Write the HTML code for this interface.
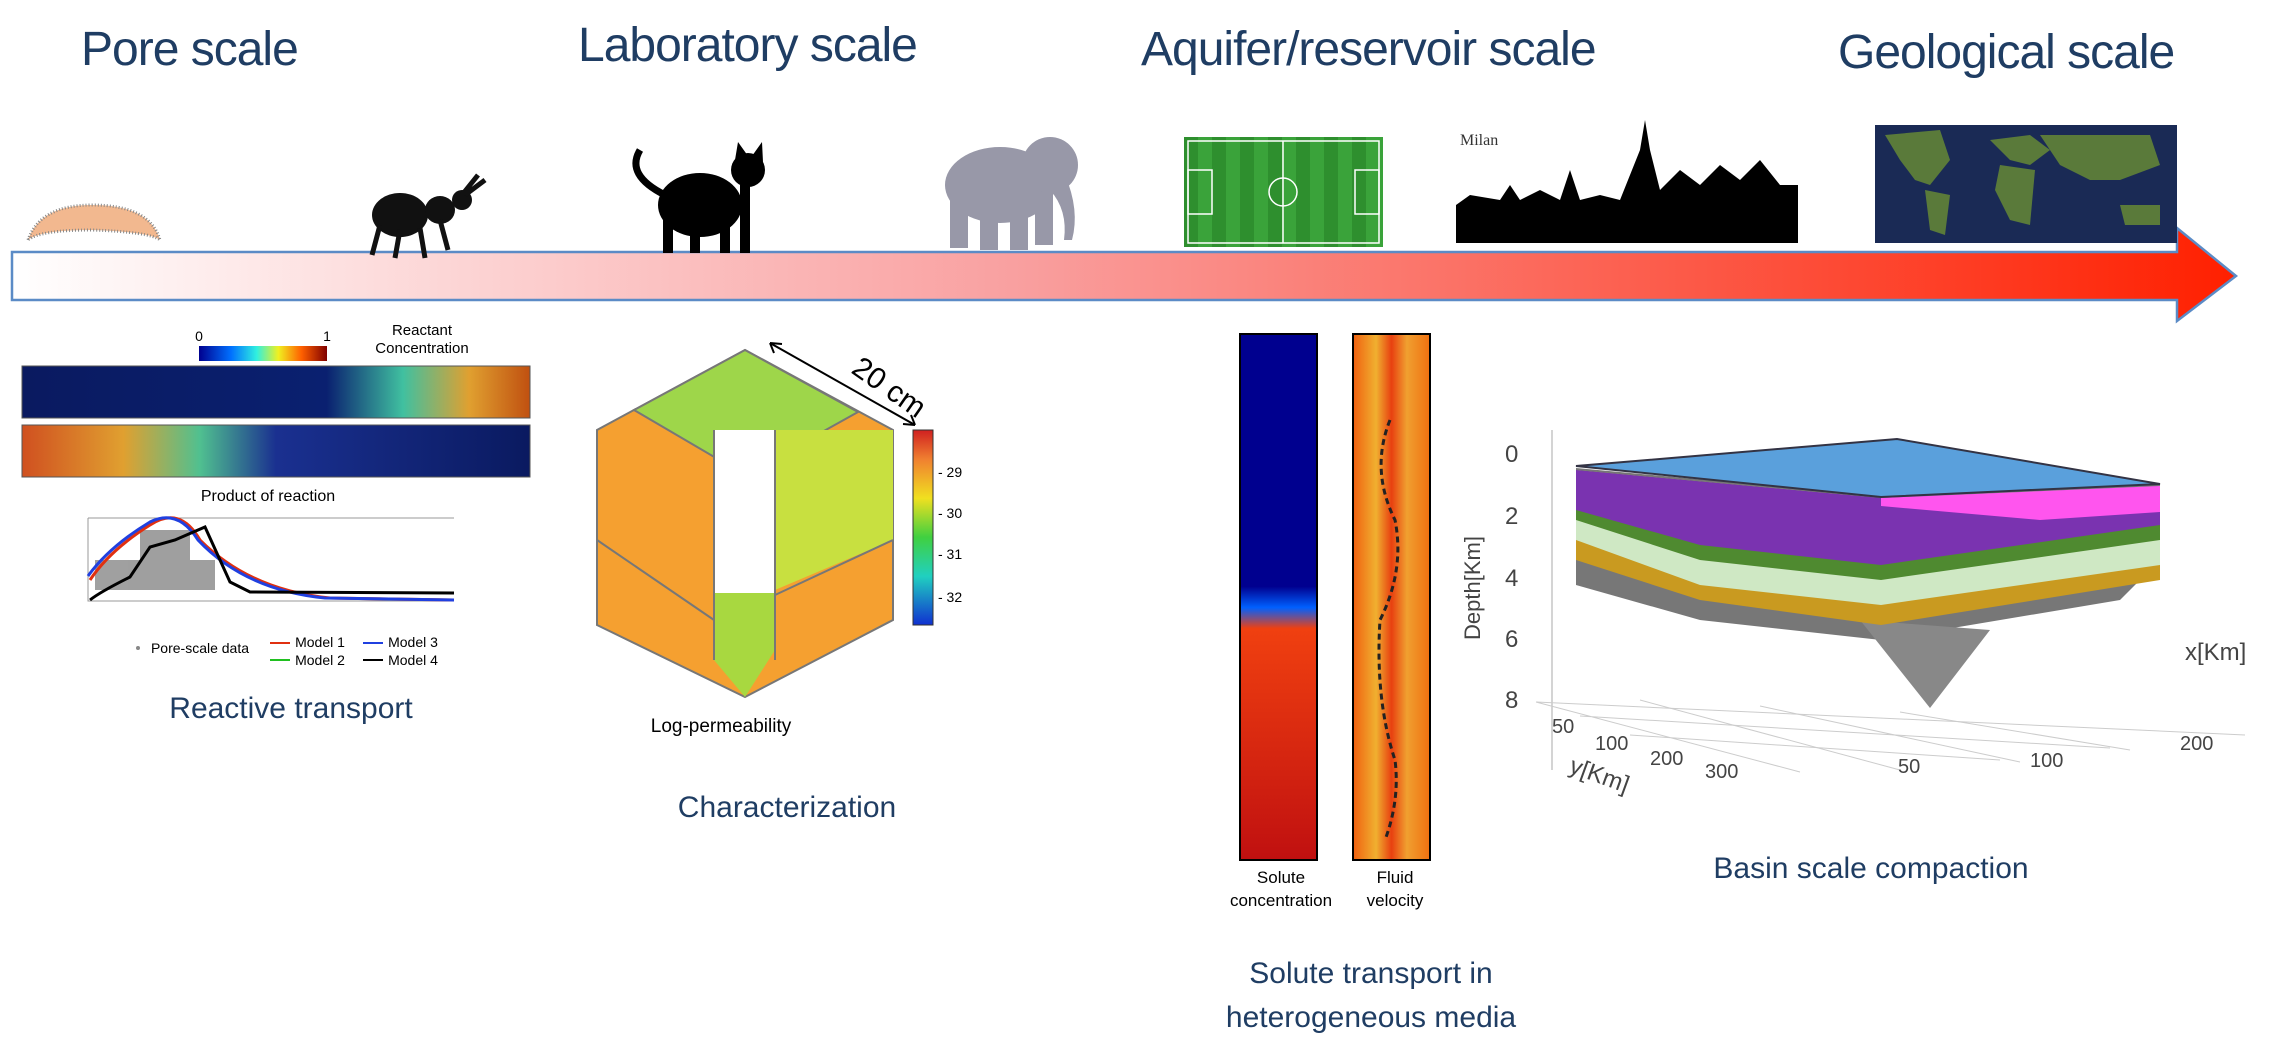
<!DOCTYPE html>
<html><head><meta charset="utf-8">
<style>
html,body{margin:0;padding:0;background:#fff;}
body{width:2276px;height:1030px;overflow:hidden;position:relative;font-family:"Liberation Sans",sans-serif;}
.t{position:absolute;color:#1f3d63;white-space:nowrap;}
.h{font-size:48px;top:22px;letter-spacing:-1px;}
.c{font-size:30px;transform:translateX(-50%);text-align:center;}
.s{position:absolute;color:#000;font-size:17px;white-space:nowrap;text-align:center;transform:translateX(-50%);}
</style></head><body>
<svg width="2276" height="1030" style="position:absolute;left:0;top:0">
<defs>
<linearGradient id="ar" x1="0" x2="1"><stop offset="0" stop-color="#fff"/><stop offset="0.45" stop-color="#f9a0a0"/><stop offset="1" stop-color="#ff2000"/></linearGradient>
<linearGradient id="jet" x1="0" x2="1"><stop offset="0" stop-color="#00008f"/><stop offset="0.25" stop-color="#0070ff"/><stop offset="0.45" stop-color="#30f0e0"/><stop offset="0.62" stop-color="#f0f020"/><stop offset="0.8" stop-color="#ff6000"/><stop offset="1" stop-color="#800000"/></linearGradient>
<linearGradient id="s1" x1="0" x2="1"><stop offset="0" stop-color="#0a1a60"/><stop offset="0.6" stop-color="#0a2070"/><stop offset="0.75" stop-color="#40c0a0"/><stop offset="0.88" stop-color="#e0a030"/><stop offset="1" stop-color="#c05010"/></linearGradient>
<linearGradient id="s2" x1="0" x2="1"><stop offset="0" stop-color="#d05020"/><stop offset="0.2" stop-color="#e0a030"/><stop offset="0.35" stop-color="#50c090"/><stop offset="0.5" stop-color="#1a3090"/><stop offset="1" stop-color="#0a1a60"/></linearGradient>
<linearGradient id="cb" x1="0" x2="0" y1="0" y2="1"><stop offset="0" stop-color="#d02020"/><stop offset="0.15" stop-color="#f08030"/><stop offset="0.35" stop-color="#f0e020"/><stop offset="0.55" stop-color="#40d040"/><stop offset="0.75" stop-color="#20d0c0"/><stop offset="1" stop-color="#1030d0"/></linearGradient>
<linearGradient id="fl" x1="0" x2="1"><stop offset="0" stop-color="#f06010"/><stop offset="0.3" stop-color="#f0b030"/><stop offset="0.5" stop-color="#e84010"/><stop offset="0.7" stop-color="#f0a030"/><stop offset="1" stop-color="#f07010"/></linearGradient>
<linearGradient id="sc" x1="0" x2="0" y1="0" y2="1"><stop offset="0" stop-color="#00008f"/><stop offset="0.48" stop-color="#00008f"/><stop offset="0.52" stop-color="#0060ff"/><stop offset="0.56" stop-color="#f04010"/><stop offset="1" stop-color="#c01010"/></linearGradient>
</defs>
<path d="M12,252 L2177,252 L2177,228 L2236,276 L2177,321 L2177,300 L12,300 Z" fill="url(#ar)" stroke="#5b8bc6" stroke-width="2.5"/>
<path d="M28,240 Q40,205 92,205 Q150,205 160,240 Q150,232 92,230 Q40,230 28,240Z" fill="#f2b88f" stroke="#888" stroke-width="3" stroke-dasharray="1 2"/>
<g fill="#111"><ellipse cx="400" cy="215" rx="28" ry="22"/><ellipse cx="440" cy="210" rx="15" ry="14"/><circle cx="462" cy="200" r="10"/>
<path d="M380,225 L372,255 M400,230 L395,258 M420,228 L425,258 M440,220 L448,250 M465,195 L485,180 M462,195 L478,175" stroke="#111" stroke-width="5"/></g>
<g fill="#000"><ellipse cx="700" cy="205" rx="42" ry="32"/><circle cx="748" cy="170" r="17"/><path d="M735,160 L738,142 L748,156Z M752,156 L762,142 L763,162Z"/>
<rect x="663" y="205" width="10" height="48"/><rect x="690" y="215" width="10" height="38"/><rect x="720" y="210" width="10" height="43"/><rect x="740" y="185" width="10" height="68"/>
<path d="M665,195 Q625,175 640,150" stroke="#000" stroke-width="7" fill="none"/></g>
<g fill="#9898a8"><ellipse cx="1000" cy="185" rx="55" ry="38"/><ellipse cx="1050" cy="165" rx="28" ry="28"/><path d="M1065,175 Q1080,210 1072,240 L1064,240 Q1068,210 1050,190Z"/>
<rect x="950" y="200" width="18" height="48"/><rect x="980" y="210" width="18" height="40"/><rect x="1010" y="205" width="18" height="45"/><rect x="1035" y="195" width="18" height="50"/></g>
<rect x="1184" y="137" width="199" height="110" fill="#3aa33a"/>
<g fill="#2e8f2e"><rect x="1184" y="137" width="14" height="110"/><rect x="1212" y="137" width="14" height="110"/><rect x="1240" y="137" width="14" height="110"/><rect x="1268" y="137" width="14" height="110"/><rect x="1296" y="137" width="14" height="110"/><rect x="1324" y="137" width="14" height="110"/><rect x="1352" y="137" width="14" height="110"/></g>
<g fill="none" stroke="#fff" stroke-width="1.5"><rect x="1188" y="141" width="191" height="102"/><line x1="1283" y1="141" x2="1283" y2="243"/><circle cx="1283" cy="192" r="14"/><rect x="1188" y="170" width="24" height="44"/><rect x="1355" y="170" width="24" height="44"/></g>
<text x="1460" y="145" font-family="Liberation Serif" font-size="16" fill="#333">Milan</text>
<path d="M1456,243 L1456,205 L1470,195 L1500,200 L1510,185 L1520,200 L1540,190 L1560,200 L1570,170 L1580,200 L1600,195 L1620,200 L1640,150 L1645,120 L1650,150 L1660,190 L1680,170 L1700,185 L1720,165 L1740,180 L1760,160 L1780,185 L1798,185 L1798,243 Z" fill="#000"/>
<rect x="1875" y="125" width="302" height="118" fill="#1a2a55"/>
<g fill="#5a7a3a"><path d="M1885,135 L1940,130 L1950,160 L1930,185 L1915,180 L1900,160Z"/><path d="M1925,190 L1950,195 L1945,235 L1930,230Z"/><path d="M1990,140 L2030,135 L2050,150 L2030,165 L2010,160Z"/><path d="M2000,165 L2035,170 L2030,225 L2010,220 L1995,190Z"/><path d="M2040,135 L2150,135 L2160,165 L2120,180 L2090,180 L2060,165Z"/><path d="M2120,205 L2160,205 L2160,225 L2125,225Z"/></g>
<rect x="199" y="346" width="128" height="15" fill="url(#jet)"/>
<rect x="22" y="366" width="508" height="52" fill="url(#s1)" stroke="#555"/>
<rect x="22" y="425" width="508" height="52" fill="url(#s2)" stroke="#555"/>
<g stroke="#999" fill="none"><path d="M88,518 L88,601 L454,601"/><line x1="88" y1="518" x2="454" y2="518"/></g>
<g fill="#888" opacity="0.8"><rect x="95" y="560" width="120" height="30"/><rect x="140" y="530" width="50" height="30"/></g>
<path d="M90,580 Q110,550 150,525 Q180,505 200,540 Q250,590 330,598 L454,600" stroke="#e03010" stroke-width="3" fill="none"/>
<path d="M88,576 Q110,546 150,522 Q178,508 198,540 Q245,590 325,598 L454,600" stroke="#2040e0" stroke-width="3" fill="none"/>
<path d="M90,600 Q100,592 130,577 L150,547 L175,540 L205,527 L230,582 L250,592 L454,593" stroke="#000" stroke-width="3" fill="none"/>
<circle cx="138" cy="648" r="2" fill="#888"/>
<line x1="270" y1="643" x2="290" y2="643" stroke="#e03010" stroke-width="2"/><line x1="270" y1="660" x2="290" y2="660" stroke="#20c020" stroke-width="2"/>
<line x1="363" y1="643" x2="383" y2="643" stroke="#2040e0" stroke-width="2"/><line x1="363" y1="660" x2="383" y2="660" stroke="#000" stroke-width="2"/>
<polygon points="745,350 893,430 893,620 745,697 597,625 597,430" fill="#f5a030" stroke="#777" stroke-width="2"/>
<polygon points="745,350 858,412 745,475 634,410" fill="#9ed64a" stroke="#777" stroke-width="2"/>
<polygon points="775,430 893,430 893,540 775,590" fill="#c8e040"/>
<polygon points="714,590 745,565 775,590 775,650 745,697 714,660" fill="#a8d840"/>
<polygon points="714,430 775,430 775,593 714,593" fill="#fff"/>
<path d="M597,540 L714,620 M893,540 L775,595 M714,430 L714,660 M775,430 L775,660" stroke="#777" stroke-width="2"/>
<rect x="913" y="430" width="20" height="195" fill="url(#cb)" stroke="#333"/>
<line x1="770" y1="343" x2="915" y2="425" stroke="#000" stroke-width="2"/>
<path d="M770,343 l12,1 M770,343 l4,10 M915,425 l-12,-1 M915,425 l-4,-10" stroke="#000" stroke-width="2"/>
<g font-size="14" fill="#000"><text x="938" y="477">- 29</text><text x="938" y="518">- 30</text><text x="938" y="559">- 31</text><text x="938" y="602">- 32</text></g>
<text x="850" y="372" font-size="30" transform="rotate(35 850 372)">20 cm</text>
<rect x="1240" y="334" width="77" height="526" fill="url(#sc)" stroke="#000" stroke-width="2"/>
<rect x="1353" y="334" width="77" height="526" fill="url(#fl)" stroke="#000" stroke-width="2"/>
<path d="M1390,420 Q1370,470 1395,520 Q1405,570 1380,620 Q1375,700 1395,760 Q1400,800 1385,840" stroke="#222" stroke-width="3" stroke-dasharray="6 4" fill="none"/>
<line x1="1552" y1="430" x2="1552" y2="770" stroke="#aaa"/>
<g stroke="#ccc" fill="none"><path d="M1536,702 L2245,735 M1536,702 L1800,772 M1580,716 L2110,748 M1630,735 L2000,760"/><path d="M1640,700 L1900,770 M1760,706 L2020,762 M1900,712 L2130,750"/></g>
<polygon points="1576,468 1881,496 2160,484 2160,560 2120,600 1881,640 1700,620 1576,585" fill="#777"/>
<polygon points="1860,620 1930,708 1990,630" fill="#888"/>
<polygon points="1576,470 1881,498 2160,486 2160,580 1881,625 1700,600 1576,560" fill="#c99a20"/>
<polygon points="1576,470 1881,498 2160,486 2160,565 1881,605 1700,585 1576,540" fill="#cfe8c4"/>
<polygon points="1576,470 1881,498 2160,486 2160,540 1881,580 1700,560 1576,520" fill="#4f8a30"/>
<polygon points="1576,470 1881,498 2160,486 2160,525 1881,565 1700,545 1576,510" fill="#7a33b0"/>
<polygon points="1881,498 2160,486 2160,512 2040,520 1881,506" fill="#ff55ee"/>
<polygon points="1576,466 1897,439 2160,484 1881,497" fill="#5aa0dc" stroke="#334" stroke-width="2"/>
<g font-size="24" fill="#444"><text x="1505" y="462">0</text><text x="1505" y="524">2</text><text x="1505" y="586">4</text><text x="1505" y="647">6</text><text x="1505" y="708">8</text>
<text x="1552" y="733" font-size="20">50</text><text x="1595" y="750" font-size="20">100</text><text x="1650" y="765" font-size="20">200</text><text x="1705" y="778" font-size="20">300</text>
<text x="1898" y="773" font-size="20">50</text><text x="2030" y="767" font-size="20">100</text><text x="2180" y="750" font-size="20">200</text>
<text x="2185" y="660">x[Km]</text><text x="1568" y="772" transform="rotate(20 1568 772)">y[Km]</text>
<text x="1480" y="640" transform="rotate(-90 1480 640)" font-size="22">Depth[Km]</text></g>
</svg>
<div class="t h" style="left:81px">Pore scale</div>
<div class="t h" style="left:578px;top:18px">Laboratory scale</div>
<div class="t h" style="left:1141px">Aquifer/reservoir scale</div>
<div class="t h" style="left:1838px;top:25px">Geological scale</div>
<div class="s" style="left:199px;top:328px;font-size:14px">0</div>
<div class="s" style="left:327px;top:328px;font-size:14px">1</div>
<div class="s" style="left:422px;top:322px;font-size:15px;line-height:18px">Reactant<br>Concentration</div>
<div class="s" style="left:268px;top:488px;font-size:16px">Product of reaction</div>
<div class="s" style="left:200px;top:640px;font-size:14px">Pore-scale data</div>
<div class="s" style="left:320px;top:634px;font-size:14px">Model 1</div>
<div class="s" style="left:320px;top:652px;font-size:14px">Model 2</div>
<div class="s" style="left:413px;top:634px;font-size:14px">Model 3</div>
<div class="s" style="left:413px;top:652px;font-size:14px">Model 4</div>
<div class="t c" style="left:291px;top:692px">Reactive transport</div>
<div class="s" style="left:721px;top:716px;font-size:19px">Log-permeability</div>
<div class="t c" style="left:787px;top:791px">Characterization</div>
<div class="s" style="left:1281px;top:866px;line-height:23px">Solute<br>concentration</div>
<div class="s" style="left:1395px;top:866px;line-height:23px">Fluid<br>velocity</div>
<div class="t c" style="left:1371px;top:952px;line-height:44px">Solute transport in<br>heterogeneous media</div>
<div class="t c" style="left:1871px;top:852px">Basin scale compaction</div>
</body></html>
